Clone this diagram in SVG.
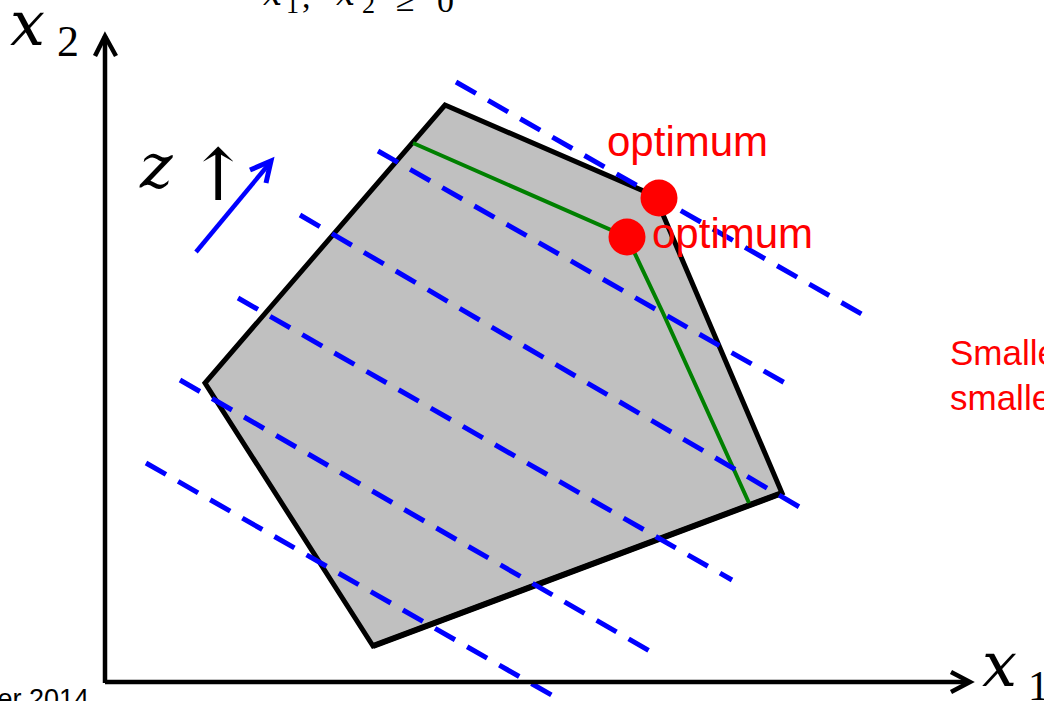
<svg xmlns="http://www.w3.org/2000/svg" width="1044" height="701" viewBox="0 0 1044 701">
<style>
.math{font-family:"DejaVu Serif","Liberation Serif",serif;font-style:italic;fill:#000}
.num{font-family:"Liberation Serif","DejaVu Serif",serif;fill:#000}
.red{font-family:"Liberation Sans",Arial,sans-serif;fill:#ff0000}
.dash{stroke:#0000ff;stroke-width:5;stroke-dasharray:23 14;fill:none}
.axis{stroke:#000;stroke-width:4.5;fill:none}
</style>
<rect width="1044" height="701" fill="#ffffff"/>
<g id="region">
<polygon points="445,105 655,196 782,493 373,646 205,383" fill="#c0c0c0" stroke="#000" stroke-width="5" stroke-linejoin="miter"/>
<line x1="782" y1="493" x2="373" y2="646" stroke="#000" stroke-width="6"/>
</g>
<g id="path">
<polyline points="413,143 627,237 663,313 749,503" fill="none" stroke="#008000" stroke-width="4"/>
</g>
<g id="connectors">
<line class="dash" x1="456" y1="82" x2="865" y2="316"/>
<line class="dash" x1="378" y1="151" x2="785" y2="383"/>
<line class="dash" x1="300" y1="215" x2="808" y2="512"/>
<line class="dash" x1="238" y1="298" x2="732" y2="580"/>
<line class="dash" x1="180" y1="380" x2="653" y2="653"/>
<line class="dash" x1="146" y1="463" x2="555" y2="697"/>
</g>
<g id="axes">
<polyline class="axis" points="105,683 105,36"/>
<polyline class="axis" points="95,56 105,36 116,56" stroke-width="5"/>
<polyline class="axis" points="105,682 968,682"/>
<polyline class="axis" points="951,672 970,682 951,692" stroke-width="5"/>
</g>
<g id="z-arrow">
<line x1="196" y1="252" x2="269" y2="164" stroke="#0000ff" stroke-width="4.5"/>
<polyline points="250,170 271,161 266,183" fill="none" stroke="#0000ff" stroke-width="5"/>
</g>
<g id="optima">
<circle cx="659" cy="198" r="18.5" fill="#ff0000"/>
<circle cx="627" cy="237" r="18.5" fill="#ff0000"/>
</g>
<g id="labels">
<text class="red" x="607" y="156" font-size="42">optimum</text>
<text class="red" x="652" y="248" font-size="42">optimum</text>
<text class="red" x="950" y="365" font-size="35">Smalle</text>
<text class="red" x="950" y="410" font-size="35">smalle</text>
<text x="89" y="708" font-size="27" text-anchor="end" style="font-family:'Liberation Sans',Arial,sans-serif">er 2014</text>
<text class="math" x="10" y="45" font-size="62">x</text>
<text class="num" x="57" y="56" font-size="44">2</text>
<text class="math" x="982" y="686" font-size="62">x</text>
<text class="num" x="1028" y="700" font-size="42">1</text>
<text class="math" x="140" y="187" font-size="62">z</text>
<text x="188" y="200" font-size="72" style="font-family:'DejaVu Serif',serif">↑</text>
<text class="math" x="263" y="5" font-size="34">x</text>
<text class="num" x="286" y="13" font-size="26">1</text>
<text class="num" x="302" y="8" font-size="34">,</text>
<text class="math" x="336" y="5" font-size="34">x</text>
<text class="num" x="362" y="13" font-size="26">2</text>
<text class="num" x="396" y="11" font-size="34">≥</text>
<text class="num" x="437" y="12" font-size="34">0</text>
</g>
</svg>
